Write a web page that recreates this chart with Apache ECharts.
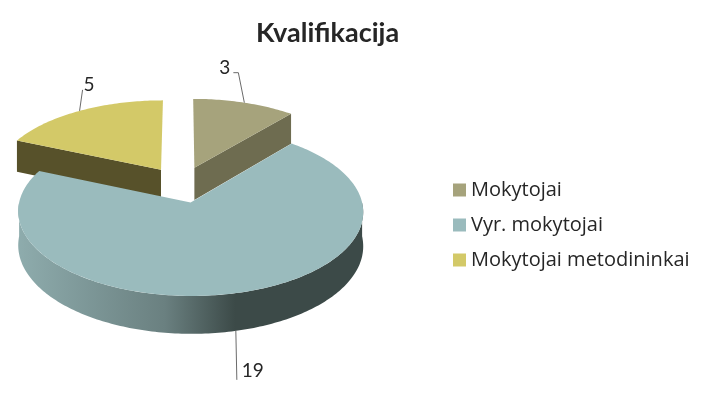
<!DOCTYPE html>
<html>
<head>
<meta charset="utf-8">
<script src="https://cdn.jsdelivr.net/npm/echarts@6/dist/echarts.min.js"></script>
<style>
html, body { margin: 0; padding: 0; background: #fff; }
#main { width: 705px; height: 412px; }
</style>
</head>
<body>
<div id="main"></div>
<script>
// duomenys
var categories = ['Mokytojai', 'Vyr. mokytojai', 'Mokytojai metodininkai'];
var values = [3, 19, 5];

// spalvos
var topColors = ['#a6a37c', '#9abbbd', '#d3c968'];
var wallColors = ['#6e6c50', '#4e6260', '#57512a'];
var outerStops = [
	['#8a876a', '#4f4e39'],
	['#8fadae', '#3c4a48'],
	['#b0a955', '#4a4422']
];

// 3D pyrago geometrija (pikseliais)
var pie = { cx: 181.6, cy: 184.5, rx: 167.5, ry: 79.5, k: 0.105, h: 33, explode: 0.228 };

// etikečių išdėstymas
var labelLayout = [
	{ anchor: 'top', line: [[-6, -30], [-11, -30]], text: [-14, -35], align: 'right' },
	{ anchor: 'bottom', line: [[1, 49]], text: [6, 40], align: 'left' },
	{ anchor: 'top', line: [[3, -21]], text: [4, -26], align: 'left' }
];

var total = 0, cum = [];
values.forEach(function(v) { cum.push(total); total += v; });

function proj(r, ang, off, bottom) {
	var X = r * Math.sin(ang) + off[0],
		D = r * Math.cos(ang) + off[1];
	var s = 1 / (1 + pie.k * D);
	return [pie.cx + pie.rx * X * s, pie.cy - pie.ry * D * s + (bottom ? pie.h * s : 0)];
}

function arc(a0, a1, off, bottom) {
	var n = Math.max(2, Math.ceil((a1 - a0) / (Math.PI / 180)));
	var pts = [];
	for (var j = 0; j <= n; j++) {
		pts.push(proj(1, a0 + (a1 - a0) * j / n, off, bottom));
	}
	return pts;
}

function renderSlice(i) {
	return function(params, api) {
		var v = api.value(0);
		var a0 = cum[i] / total * Math.PI * 2,
			a1 = (cum[i] + v) / total * Math.PI * 2,
			am = (a0 + a1) / 2;
		var off = [pie.explode * Math.sin(am), pie.explode * Math.cos(am)];
		var cTop = proj(0, 0, off, false),
			cBot = proj(0, 0, off, true);
		var children = [];

		// išorinė sienelė (matoma tik priekyje)
		var lo = Math.max(a0, Math.PI / 2),
			hi = Math.min(a1, Math.PI * 1.5);
		if (lo < hi) {
			var pts = arc(lo, hi, off, false).concat(arc(lo, hi, off, true).reverse());
			children.push({
				type: 'polygon',
				shape: { points: pts },
				style: {
					fill: new echarts.graphic.LinearGradient(pie.cx - pie.rx, 0, pie.cx + pie.rx, 0, [
						{ offset: 0, color: outerStops[i][0] },
						{ offset: 0.45, color: echarts.color.lerp(0.45, outerStops[i]) },
						{ offset: 0.66, color: outerStops[i][1] },
						{ offset: 1, color: outerStops[i][1] }
					], true)
				}
			});
		}

		// radialinės sienelės
		[[a0, a0 - Math.PI / 2], [a1, a1 + Math.PI / 2]].forEach(function(e) {
			if (Math.cos(e[1]) < -1e-6) {
				var r1 = proj(1, e[0], off, false), r2 = proj(1, e[0], off, true);
				children.push({
					type: 'polygon',
					shape: { points: [cTop, r1, r2, cBot] },
					style: { fill: wallColors[i] }
				});
			}
		});

		// viršus
		children.push({
			type: 'polygon',
			shape: { points: [cTop].concat(arc(a0, a1, off, false)) },
			style: { fill: topColors[i] }
		});

		// etiketė
		var L = labelLayout[i];
		var anc = proj(1, am, off, L.anchor === 'bottom');
		var linePts = [anc].concat(L.line.map(function(p) { return [anc[0] + p[0], anc[1] + p[1]]; }));
		children.push({
			type: 'polyline',
			shape: { points: linePts },
			style: { stroke: '#6b6b6b', lineWidth: 1, fill: null }
		});
		children.push({
			type: 'text',
			style: {
				text: String(v),
				x: anc[0] + L.text[0],
				y: anc[1] + L.text[1],
				align: L.align,
				verticalAlign: 'middle',
				font: '19px Lato',
				fill: '#262626'
			}
		});

		return { type: 'group', children: children };
	};
}

var myChart = echarts.init(document.getElementById('main'));

var series = categories.map(function(name, i) {
	var am = (cum[i] + values[i] / 2) / total * Math.PI * 2;
	return {
		type: 'custom',
		name: name,
		coordinateSystem: 'none',
		z: 2 + Math.round((1 - Math.cos(am)) * 10),
		silent: true,
		itemStyle: { color: topColors[i] },
		renderItem: renderSlice(i),
		data: [values[i]]
	};
});

var option = {
	backgroundColor: '#ffffff',
	animation: false,
	title: {
		text: 'Kvalifikacija',
		left: 256,
		top: 20,
		padding: 0,
		textStyle: {
			fontFamily: 'Lato',
			fontWeight: 'bold',
			fontSize: 27,
			color: '#262626'
		}
	},
	legend: {
		orient: 'vertical',
		left: 453,
		top: 179,
		padding: 0,
		itemWidth: 13,
		itemHeight: 13,
		itemGap: 13,
		icon: 'rect',
		data: categories,
		textStyle: {
			fontFamily: 'Open Sans',
			fontSize: 20,
			lineHeight: 22,
			color: '#262626'
		}
	},
	series: series
};
myChart.setOption(option);
</script>
</body>
</html>
